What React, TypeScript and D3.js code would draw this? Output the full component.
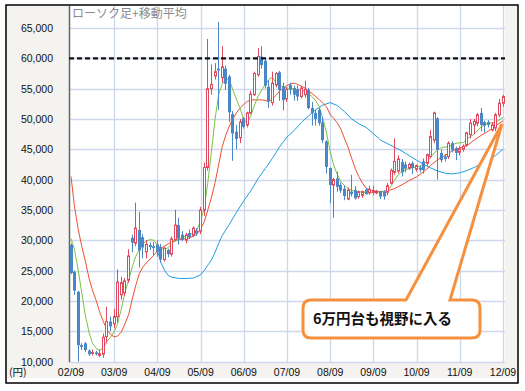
import * as d3 from "d3";

// monthly candles from 2002/09
const startMonth = "2002-09";
const opens = [29200,24800,21500,12700,13000,11800,11400,11500,11000,11200,14100,16600,16200,17400,21000,21300,23400,30400,29500,31700,30500,28100,29200,29000,29300,28900,26800,28400,27700,30100,32500,30900,30000,31200,30800,31600,31500,35000,42000,55000,57100,58300,56800,58300,57000,50800,47900,46900,50100,49000,51000,54000,57300,60300,59600,55300,52700,55600,57700,55300,53300,55600,55100,54900,53700,54000,54800,51800,51000,51500,49400,46300,41900,39100,40200,39100,38500,36800,38000,38300,37200,37400,38400,37800,37900,37800,38000,38000,37900,39400,41200,41400,42900,42500,41900,42700,41700,42000,43000,42700,43800,46500,50100,44400,43800,43800,46000,45200,44500,45000,45700,47400,49000,49300,51000,49500,49500,48200,48500,50700,52600];
const highs = [29500,25000,21600,13000,13200,12000,12000,11800,12000,14600,19000,17400,18700,25200,24000,23800,28500,30900,36200,34700,31000,30000,29600,29700,30000,29400,28900,28600,30600,35000,33700,31500,31200,31800,32300,32000,35500,42800,63200,59000,59200,66000,62000,58800,57300,51300,49000,50000,50300,51200,54600,57800,61700,62000,60100,56400,57800,57700,57900,56000,55200,56000,55500,55500,55500,56300,55100,52800,51500,51800,50400,46500,42000,40300,41300,39500,39000,38700,40800,38900,38200,38200,38600,39000,39000,38300,38200,38200,39400,41800,46800,44000,43400,43000,42800,43000,42500,42300,43500,44300,48200,51200,50300,45000,44200,46300,46300,45400,45500,45800,47900,50000,50000,51000,51800,49700,49800,49500,51000,53300,54000];
const lows = [24400,21000,10000,11900,11600,10900,11000,11000,10700,10600,13000,15000,15500,16400,20200,20800,23000,28000,29000,25500,27000,27000,28400,27500,27300,26300,26500,27200,27300,29800,29300,29900,29500,30200,30500,30700,31000,34000,41500,54000,56500,51500,56000,54800,49500,43100,45000,46000,48400,48600,50800,53800,57000,58300,55000,51800,52200,55200,53000,51400,52800,54000,53000,53000,53400,53500,51600,48900,48900,48900,46000,41000,36100,33700,38000,37800,36600,36600,37200,36700,36800,37000,37500,37500,37400,37600,36800,36700,37400,39200,40800,41000,40500,41200,41600,40900,41300,41200,41000,42300,43500,46000,40000,42800,43000,43400,44500,43200,44000,44600,45400,46800,47500,48800,48000,47800,48600,47900,48000,50300,52000];
const closes = [24600,21700,12700,12400,11900,11200,11500,11200,11300,14000,16600,15800,17400,23100,23000,23300,27400,29600,32000,28300,28800,29300,28900,28700,28100,26800,28700,27700,30200,32500,30300,30100,30900,30500,32000,31100,35000,42000,55000,55700,57800,58000,58600,55800,51100,47600,46700,49500,48700,51000,54100,57500,60300,58900,55500,52900,55900,57500,54800,53100,54900,54800,54000,53700,55100,54900,51800,51000,50000,49300,46500,42100,39100,40000,38800,38200,37300,38300,37600,36900,38000,38000,37600,38400,38200,38100,37200,37200,39000,41500,43000,43400,41200,41800,42500,41900,42300,41600,41600,44100,47100,51000,44900,43200,43400,46000,44900,44400,45100,45500,47700,49300,49600,50700,49000,48900,49000,49000,50700,52600,53700];

// moving averages: [month index, value]
const maShort: [number, number][] = [[0,30300],[1,28400],[2,25100],[3,21300],[4,17500],[5,14800],[6,13000],[7,12200],[8,11800],[9,12200],[10,13300],[11,14000],[12,14900],[13,16300],[14,18700],[15,21400],[16,23400],[17,25600],[18,27300],[19,28500],[20,29400],[21,29900],[22,30100],[23,30000],[24,29200],[25,28600],[26,28400],[27,28800],[28,29400],[29,30000],[31,30500],[33,30900],[35,31700],[36,33200],[37,35300],[38,39500],[39,44500],[40,50000],[41,54100],[42,55700],[43,56600],[44,56500],[45,54800],[46,53200],[47,51800],[48,49800],[49,49400],[50,50600],[51,52300],[52,53800],[53,54800],[54,55700],[55,56500],[56,56900],[57,56000],[58,55500],[60,55100],[63,54800],[65,54600],[67,53700],[68,53000],[69,52000],[70,50000],[71,47700],[72,44600],[73,42300],[74,40800],[75,39600],[76,39000],[77,38500],[78,38200],[80,38000],[83,37850],[87,38000],[88,38300],[89,39000],[90,40000],[91,40800],[92,41300],[94,41850],[97,42250],[99,43000],[101,44500],[103,45300],[105,45450],[107,46000],[109,46100],[110,46700],[112,47500],[114,48700],[116,49300],[118,49400],[120,50300]];
const maMid: [number, number][] = [[0,40500],[1,35500],[2,31800],[3,29000],[4,26500],[5,23700],[6,21800],[7,20100],[8,18200],[9,16600],[10,15300],[11,14500],[12,14050],[13,14200],[14,14900],[15,16200],[16,17700],[17,20300],[18,22500],[19,24500],[20,25600],[21,26300],[22,26900],[23,27500],[24,28200],[25,28700],[27,29400],[29,30000],[31,30150],[33,30400],[35,31000],[36,31900],[37,33000],[38,35000],[39,37000],[40,39500],[41,42500],[42,45300],[43,47300],[44,48800],[45,50000],[46,51000],[47,51800],[48,52400],[49,52900],[50,53150],[53,53150],[55,52900],[56,53300],[57,53900],[58,54600],[59,55100],[60,55500],[61,55800],[62,55900],[63,55700],[64,55400],[65,55100],[66,54600],[67,54200],[68,53700],[69,53200],[70,52600],[71,52000],[72,50700],[73,50100],[74,49300],[75,48300],[76,46700],[77,45200],[78,43500],[79,41800],[80,40500],[81,39400],[82,38600],[83,38300],[84,38050],[86,38000],[88,38150],[90,38550],[92,39150],[94,39850],[96,40450],[98,41300],[100,42400],[102,43300],[104,44000],[106,44750],[108,45200],[110,45600],[112,46500],[114,47300],[116,48000],[118,48900],[120,49700]];
const maLong: [number, number][] = [[24,28300],[25,26300],[26,25000],[27,24200],[28,23900],[30,23700],[32,23700],[34,23750],[36,24300],[37,25000],[38,25900],[39,26700],[40,28000],[41,29500],[42,30700],[44,32600],[46,34600],[48,36500],[50,38200],[52,40200],[54,41800],[56,43500],[58,45400],[60,47000],[62,48100],[64,49400],[66,50500],[68,51500],[70,52300],[72,52700],[74,52200],[76,51200],[78,50000],[80,49200],[82,48600],[84,47600],[86,46500],[88,45900],[90,45300],[92,44700],[94,43950],[96,43200],[98,42500],[100,41900],[102,41400],[104,41050],[106,40950],[108,41100],[110,41500],[112,42000],[114,42600],[116,43200],[118,44000],[120,45000]];

const yTicks = [10000,15000,20000,25000,30000,35000,40000,45000,50000,55000,60000,65000];
const xTickLabels = ["02/09","03/09","04/09","05/09","06/09","07/09","08/09","09/09","10/09","11/09","12/09"];
const targetLine = 60000;
const title = "ローソク足+移動平均";
const note = "6万円台も視野に入る";

const W = 525, H = 391;
const plot = { left: 69, right: 505, top: 6, bottom: 362 };

export default function App() {
  const start = d3.timeParse("%Y-%m")(startMonth)!;
  const dateAt = (i: number) => d3.timeMonth.offset(start, i);
  const parseTick = d3.timeParse("%y/%m");

  const x = d3.scaleTime()
    .domain([start, dateAt(120)])
    .range([71, 503]);
  const y = d3.scaleLinear().domain([10000, 65000]).range([361.5, 28]);

  const fmt = d3.format(",");
  const line = d3.line<[number, number]>()
    .x(d => x(dateAt(d[0])))
    .y(d => y(d[1]));

  const candles = closes.map((c, i) => ({ o: opens[i], h: highs[i], l: lows[i], c, i }));
  const font = "'Liberation Sans', Arial, sans-serif";
  const jp = "'Noto Sans CJK JP', sans-serif";

  return (
    <svg width={W} height={H} style={{ position: "absolute", left: 0, top: 0 }}>
      <rect x={0} y={0} width={W} height={H} fill="#fff" />
      {/* grey frame panels */}
      <rect x={6} y={5} width={plot.left - 6} height={378 - 5} fill="#f4f3ef" />
      <rect x={6} y={plot.bottom} width={518 - 6} height={378 - plot.bottom} fill="#f4f3ef" />
      <rect x={plot.right} y={5} width={518 - plot.right} height={378 - 5} fill="#f4f3ef" />

      {/* grid */}
      {yTicks.map(t => (
        <line key={"gy" + t} x1={plot.left} x2={plot.right} y1={Math.round(y(t)) + 0.5} y2={Math.round(y(t)) + 0.5}
          stroke="#cdd8ec" strokeWidth={1.3} />
      ))}
      {xTickLabels.slice(1).map(t => {
        const xx = Math.round(x(parseTick(t)!)) + 0.5;
        return <line key={"gx" + t} x1={xx} x2={xx} y1={plot.top} y2={plot.bottom} stroke="#cdd8ec" strokeWidth={1.3} />;
      })}

      <line x1={69.5} x2={69.5} y1={plot.top} y2={plot.bottom} stroke="#666" strokeWidth={1.5} />

      <text x={72} y={18} fontFamily={jp} fontSize={12} fill="#8a8a8a">{title}</text>

      {/* moving averages */}
      <path d={line(maLong)!} fill="none" stroke="#1e9fdd" strokeWidth={1} />
      <path d={line(maMid)!} fill="none" stroke="#f04e30" strokeWidth={1} />
      <path d={line(maShort)!} fill="none" stroke="#7cc142" strokeWidth={1} />

      {/* candles */}
      {candles.map(d => {
        const cx = Math.floor(x(dateAt(d.i))) + 0.5;
        const up = d.c >= d.o;
        const top = y(Math.max(d.o, d.c));
        const bot = y(Math.min(d.o, d.c));
        const col = up ? "#e04a5e" : "#4a87c6";
        return (
          <g key={d.i}>
            <line x1={cx} x2={cx} y1={y(d.h)} y2={y(d.l)} stroke={col} strokeWidth={1} />
            {up ? (
              <rect x={cx - 1} y={top} width={2} height={Math.max(bot - top, 1)} fill="#fff" stroke={col} strokeWidth={1} />
            ) : (
              <rect x={cx - 1.5} y={top} width={3} height={Math.max(bot - top, 1)} fill={col} />
            )}
          </g>
        );
      })}

      <line x1={plot.left} x2={plot.right} y1={y(targetLine)} y2={y(targetLine)} stroke="#111" strokeWidth={2.2} strokeDasharray="5,3" />

      {/* axis labels */}
      {yTicks.map(t => (
        <text key={"ly" + t} x={53} y={y(t) + 4} textAnchor="end" fontFamily={font} fontSize={10.5} fill="#111">{fmt(t)}</text>
      ))}
      {xTickLabels.map(t => (
        <text key={"lx" + t} x={x(parseTick(t)!)} y={376} textAnchor="middle" fontFamily={font} fontSize={10.5} fill="#111">{t}</text>
      ))}
      <text x={9} y={376} fontFamily={jp} fontSize={10.5} fill="#111">(円)</text>

      {/* callout */}
      <path d="M311,300 L406,300 L502,124 L450,300 L472,300 Q480,300 480,308 L480,330 Q480,338 472,338 L311,338 Q303,338 303,330 L303,308 Q303,300 311,300 Z"
        fill="#fff" stroke="#f5913e" strokeWidth={3} strokeLinejoin="miter" />
      <text x={313} y={324} fontFamily={jp} fontSize={14.5} fontWeight="bold" fill="#111">{note}</text>

      <rect x={6} y={5} width={512} height={378} fill="none" stroke="#000" strokeWidth={1.5} />
    </svg>
  );
}
